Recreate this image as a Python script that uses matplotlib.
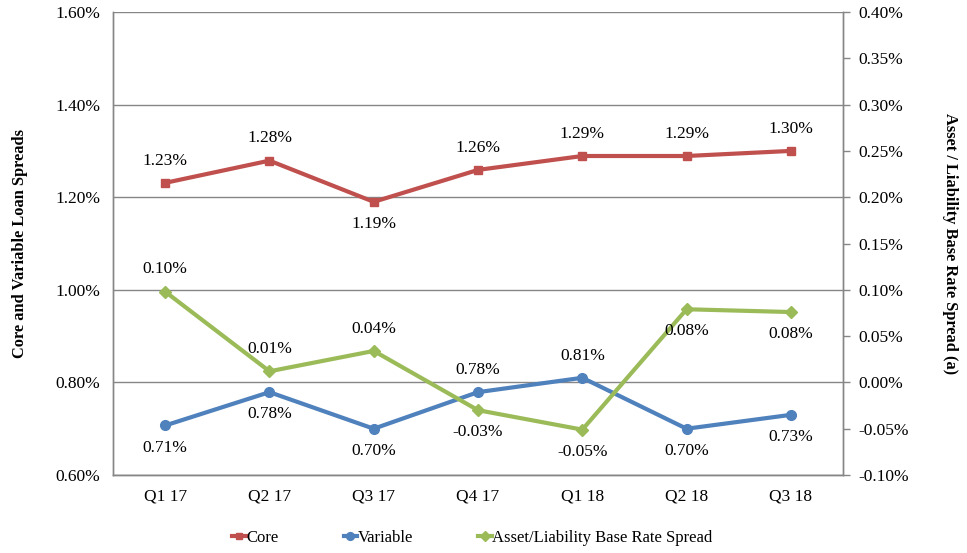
import matplotlib
matplotlib.use("Agg")
import matplotlib.pyplot as plt
from matplotlib.ticker import FuncFormatter, MultipleLocator

plt.rcParams['font.family'] = ['Liberation Serif', 'DejaVu Serif']

quarters = ["Q1 17", "Q2 17", "Q3 17", "Q4 17", "Q1 18", "Q2 18", "Q3 18"]
core = [1.231, 1.279, 1.190, 1.259, 1.289, 1.289, 1.300]
core_labels = ["1.23%", "1.28%", "1.19%", "1.26%", "1.29%", "1.29%", "1.30%"]
variable = [0.707, 0.779, 0.700, 0.779, 0.810, 0.700, 0.730]
variable_labels = ["0.71%", "0.78%", "0.70%", "0.78%", "0.81%", "0.70%", "0.73%"]
spread = [0.098, 0.012, 0.034, -0.030, -0.051, 0.079, 0.076]
spread_labels = ["0.10%", "0.01%", "0.04%", "-0.03%", "-0.05%", "0.08%", "0.08%"]

# label placement: +1 above, -1 below
core_pos = [1, 1, -1, 1, 1, 1, 1]
variable_pos = [-1, -1, -1, 1, 1, -1, -1]
spread_pos = [1, 1, 1, -1, -1, -1, -1]

RED = "#C0504D"
BLUE = "#4F81BD"
GREEN = "#9BBB59"
GRID = "#868686"
FS = 12.5

fig = plt.figure(figsize=(9.67, 5.53), dpi=100)
ax = fig.add_axes([0.1169, 0.1410, 0.7549, 0.8373])
ax2 = ax.twinx()

x = [i + 0.5 for i in range(len(quarters))]

ax.set_xlim(0, 7)
ax.set_ylim(0.6, 1.6)
ax2.set_ylim(-0.10, 0.40)

ax.yaxis.set_major_locator(MultipleLocator(0.2))
ax2.yaxis.set_major_locator(MultipleLocator(0.05))
ax.yaxis.set_major_formatter(FuncFormatter(lambda v, p: f"{v:.2f}%"))
ax2.yaxis.set_major_formatter(FuncFormatter(lambda v, p: f"{v:.2f}%"))

ax.set_axisbelow(True)
ax.grid(axis='y', color=GRID, linewidth=1.0)
ax.set_xticks(x)
ax.set_xticklabels(quarters)
ax.tick_params(axis='x', length=0, labelsize=FS, pad=10)
ax.tick_params(axis='y', length=0, labelsize=FS, pad=9)
ax2.tick_params(axis='y', length=5, width=1, color=GRID, labelsize=FS, pad=6, direction='out')

for a in (ax, ax2):
    a.spines['top'].set_visible(False)
    for s in ('left', 'right', 'bottom'):
        a.spines[s].set_color(GRID)
        a.spines[s].set_linewidth(1.0)

l1, = ax.plot(x, core, color=RED, lw=3, marker='s', ms=6, label="Core", zorder=3)
l2, = ax.plot(x, variable, color=BLUE, lw=3, marker='o', ms=7, label="Variable", zorder=3)
l3, = ax2.plot(x, spread, color=GREEN, lw=3, marker='D', ms=6, label="Asset/Liability Base Rate Spread", zorder=3)

def add_labels(axis, xs, ys, labels, pos):
    for xi, yi, t, p in zip(xs, ys, labels, pos):
        axis.annotate(t, (xi, yi), xytext=(0, 16 * p), textcoords='offset points',
                      ha='center', va='center', fontsize=FS)

add_labels(ax, x, core, core_labels, core_pos)
add_labels(ax, x, variable, variable_labels, variable_pos)
add_labels(ax2, x, spread, spread_labels, spread_pos)

ax.set_ylabel("Core and Variable Loan Spreads", fontsize=11.8, fontweight='bold', labelpad=20)
ax2.set_ylabel("Asset / Liability Base Rate Spread (a)", fontsize=11.8, fontweight='bold',
               rotation=270, labelpad=35)

fig.legend(handles=[l1, l2, l3], loc='center', bbox_to_anchor=(0.4886, 0.028), ncol=3,
           frameon=False, fontsize=12, handlelength=0.8, handletextpad=0.05,
           columnspacing=3.9, markerscale=0.8)

fig.savefig("out.png", dpi=100)
